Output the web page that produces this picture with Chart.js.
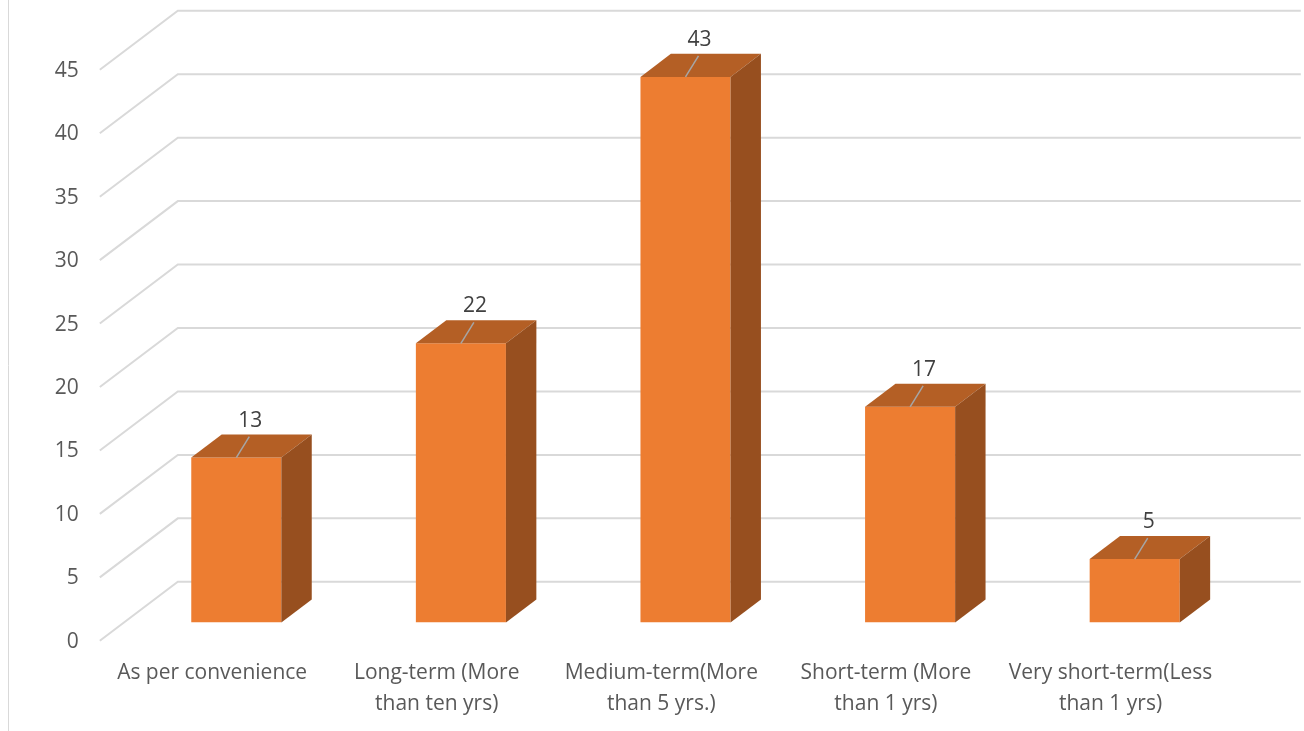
<!DOCTYPE html>
<html>
<head>
<meta charset="utf-8">
<script src="https://cdn.jsdelivr.net/npm/chart.js@4.4.1/dist/chart.umd.min.js"></script>
<style>
  html, body { margin: 0; padding: 0; background: #ffffff; }
  #wrap { width: 1304px; height: 731px; position: relative; }
</style>
</head>
<body>
<div id="wrap"><canvas id="c" width="1304" height="731"></canvas></div>
<script>
// ---- data ----
const categories = [
  ["As per convenience"],
  ["Long-term (More", "than ten yrs)"],
  ["Medium-term(More", "than 5 yrs.)"],
  ["Short-term (More", "than 1 yrs)"],
  ["Very short-term(Less", "than 1 yrs)"]
];
const counts = [13, 22, 43, 17, 5];
const yTicks = [0, 5, 10, 15, 20, 25, 30, 35, 40, 45];

// ---- style ----
const FONT = '"Open Sans", "Noto Sans", sans-serif';
const TEXT_COLOR = '#595959';
const GRID_COLOR = '#d9d9d9';
const FACE_FRONT = '#ED7D31';
const FACE_TOP = '#B45F25';
const FACE_SIDE = '#974F1F';

// Oblique projection: vector from the front plane to the back wall
const DEPTH_X = 78, DEPTH_Y = -59;
const FACE_AT = 0.31;    // fraction of depth where the bar front faces sit
const BAR_DEPTH = 0.39;  // fraction of depth taken by each bar

const frontOff = { x: -FACE_AT * DEPTH_X, y: -FACE_AT * DEPTH_Y };
const backOff = { x: (1 - FACE_AT) * DEPTH_X, y: (1 - FACE_AT) * DEPTH_Y };
const barOff = { x: BAR_DEPTH * DEPTH_X, y: BAR_DEPTH * DEPTH_Y };

// Walls, gridlines and axis labels in projection
const wallsPlugin = {
  id: 'walls',
  beforeDatasetsDraw(chart) {
    const { ctx, chartArea: a, scales: { x, y } } = chart;
    ctx.save();

    // outer frame edge on the left
    ctx.strokeStyle = GRID_COLOR;
    ctx.lineWidth = 1;
    ctx.beginPath();
    ctx.moveTo(8.5, 0);
    ctx.lineTo(8.5, chart.height);
    ctx.stroke();

    ctx.lineWidth = 2;
    ctx.lineJoin = 'miter';
    ctx.font = '21px ' + FONT;
    ctx.fillStyle = TEXT_COLOR;
    ctx.textAlign = 'right';
    ctx.textBaseline = 'middle';
    yTicks.forEach(v => {
      const py = y.getPixelForValue(v);
      const fx = a.left + frontOff.x, fy = py + frontOff.y;
      const bx = a.left + backOff.x, by = py + backOff.y;
      ctx.beginPath();
      ctx.moveTo(fx, fy);
      ctx.lineTo(bx, by);
      ctx.lineTo(a.right + backOff.x, by);
      ctx.stroke();
      ctx.fillText(String(v), fx - 21, fy + 1);
    });

    // category labels on the front plane
    ctx.textAlign = 'center';
    categories.forEach((lines, i) => {
      const cx = x.getPixelForValue(i) + frontOff.x;
      lines.forEach((t, k) => {
        ctx.fillText(t, cx, a.bottom + 51 + k * 31);
      });
    });
    ctx.restore();
  },
  afterDatasetsDraw(chart) {
    const { ctx } = chart;
    const meta = chart.getDatasetMeta(0);
    ctx.save();
    meta.data.forEach((bar, i) => {
      const p = bar.getProps(['x', 'y', 'base', 'width'], true);
      const l = p.x - p.width / 2, r = p.x + p.width / 2, t = p.y, b = p.base;
      // top face
      ctx.fillStyle = FACE_TOP;
      ctx.beginPath();
      ctx.moveTo(l, t);
      ctx.lineTo(r, t);
      ctx.lineTo(r + barOff.x, t + barOff.y);
      ctx.lineTo(l + barOff.x, t + barOff.y);
      ctx.closePath();
      ctx.fill();
      // side face
      ctx.fillStyle = FACE_SIDE;
      ctx.beginPath();
      ctx.moveTo(r, t);
      ctx.lineTo(r + barOff.x, t + barOff.y);
      ctx.lineTo(r + barOff.x, b + barOff.y);
      ctx.lineTo(r, b);
      ctx.closePath();
      ctx.fill();

      // leader line and value label
      ctx.strokeStyle = '#a6a6a6';
      ctx.lineWidth = 1.5;
      ctx.beginPath();
      ctx.moveTo(p.x, t);
      ctx.lineTo(p.x + 13, t - 21);
      ctx.stroke();
      ctx.fillStyle = '#404040';
      ctx.font = '21px ' + FONT;
      ctx.textAlign = 'center';
      ctx.textBaseline = 'middle';
      ctx.fillText(String(counts[i]), p.x + 14, t - 37);
    });
    ctx.restore();
  }
};

new Chart(document.getElementById('c'), {
  type: 'bar',
  data: {
    labels: categories,
    datasets: [{
      data: counts,
      backgroundColor: FACE_FRONT,
      borderWidth: 0,
      categoryPercentage: 1,
      barPercentage: 0.401
    }]
  },
  options: {
    responsive: false,
    animation: false,
    devicePixelRatio: 1,
    layout: { padding: { left: 124, right: 57, top: 51.5, bottom: 108.5 } },
    plugins: { legend: { display: false }, tooltip: { enabled: false } },
    scales: {
      x: { display: false },
      y: { display: false, min: 0, max: 45 }
    }
  },
  plugins: [wallsPlugin]
});
</script>
</body>
</html>
